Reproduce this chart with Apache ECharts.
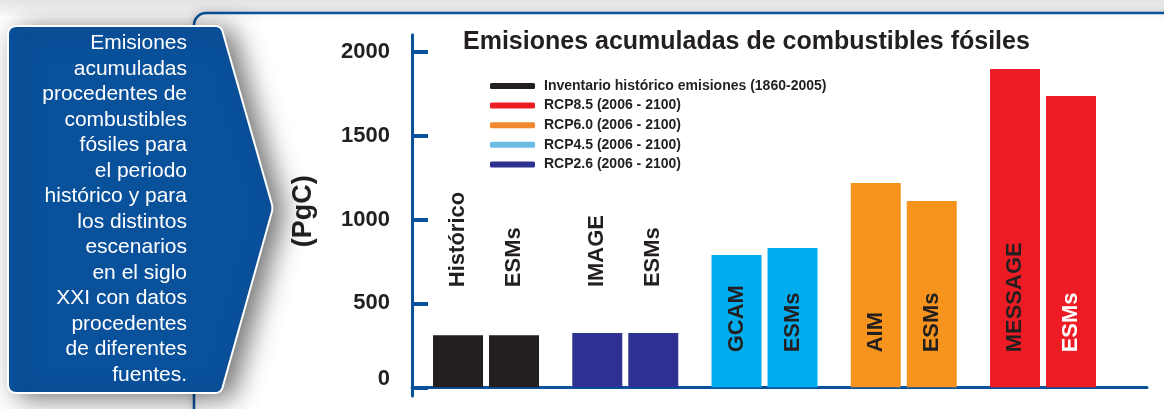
<!DOCTYPE html>
<html>
<head>
<meta charset="utf-8">
<script src="https://cdn.jsdelivr.net/npm/echarts@6/dist/echarts.min.js"></script>
<style>
html,body{margin:0;padding:0;background:#fff;}
#chart{width:1164px;height:409px;}
</style>
</head>
<body>
<div id="chart"></div>
<script>
const categories = ['Histórico', 'IMAGE', 'GCAM', 'AIM', 'MESSAGE'];
const secondLabel = 'ESMs';
const modelValues = [311, 323, 788, 1218, 1897];
const esmValues = [311, 323, 830, 1110, 1736];
const barColors = ['#231f20', '#2e3192', '#00aeef', '#f7941d', '#ed1c24'];
const legendNames = ['Inventario histórico emisiones (1860-2005)', 'RCP8.5 (2006 - 2100)', 'RCP6.0 (2006 - 2100)', 'RCP4.5 (2006 - 2100)', 'RCP2.6 (2006 - 2100)'];
const legendColors = ['#231f20', '#ed1c24', '#f0892d', '#6cbde6', '#2e3192'];
const yTicks = [0, 500, 1000, 1500, 2000];
const titleText = 'Emisiones acumuladas de combustibles fósiles';
const yName = '(PgC)';
const sideText = ['Emisiones', 'acumuladas', 'procedentes de', 'combustibles', 'fósiles para', 'el periodo', 'histórico y para', 'los distintos', 'escenarios', 'en el siglo', 'XXI con datos', 'procedentes', 'de diferentes', 'fuentes.'];

const FONT = "'Liberation Sans', Arial, Helvetica, sans-serif";
const BLUE = '#0a519c';
const DARK = '#231f20';

// rounded polygon outline helper (decoration only)
function roundedPoly(pts, radii) {
  const out = [];
  const n = pts.length;
  for (let i = 0; i < n; i++) {
    const P = pts[i], A = pts[(i - 1 + n) % n], B = pts[(i + 1) % n];
    const r = radii[i];
    const da = Math.hypot(A[0] - P[0], A[1] - P[1]);
    const db = Math.hypot(B[0] - P[0], B[1] - P[1]);
    const P1 = [P[0] + (A[0] - P[0]) * r / da, P[1] + (A[1] - P[1]) * r / da];
    const P2 = [P[0] + (B[0] - P[0]) * r / db, P[1] + (B[1] - P[1]) * r / db];
    const steps = 8;
    for (let s = 0; s <= steps; s++) {
      const t = s / steps;
      const x = (1 - t) * (1 - t) * P1[0] + 2 * (1 - t) * t * P[0] + t * t * P2[0];
      const y = (1 - t) * (1 - t) * P1[1] + 2 * (1 - t) * t * P[1] + t * t * P2[1];
      out.push([x, y]);
    }
  }
  return out;
}

const chart = echarts.init(document.getElementById('chart'), null, {renderer: 'canvas'});

function labelFor(text, i, isSecond) {
  const low = i < 2;
  return {
    show: true,
    formatter: text,
    rotate: 90,
    position: low ? 'top' : 'insideBottom',
    distance: low ? (i === 0 ? 48 : 46) : 35,
    align: 'left',
    verticalAlign: 'middle',
    fontFamily: FONT,
    fontWeight: 'bold',
    fontSize: 22,
    color: (isSecond && i === 4) ? '#ffffff' : DARK
  };
}

const modelData = modelValues.map((v, i) => ({
  value: v,
  itemStyle: {color: barColors[i]},
  label: labelFor(categories[i], i, false)
}));
const esmData = esmValues.map((v, i) => ({
  value: v,
  itemStyle: {color: barColors[i]},
  label: labelFor(secondLabel, i, true)
}));

const legendSeries = legendNames.map((n, i) => ({
  name: n,
  type: 'line',
  data: [],
  xAxisIndex: 0,
  yAxisIndex: 0,
  color: legendColors[i],
  itemStyle: {color: legendColors[i]},
  lineStyle: {color: legendColors[i]}
}));

const option = {
  animation: false,
  backgroundColor: '#ffffff',
  textStyle: {fontFamily: FONT},
  title: {
    text: titleText,
    left: 463,
    top: 30,
    padding: 0,
    textStyle: {fontFamily: FONT, fontWeight: 'bold', fontSize: 25, color: DARK}
  },
  legend: {
    data: legendNames,
    orient: 'vertical',
    left: 490,
    top: 78,
    padding: 0,
    icon: 'roundRect',
    itemWidth: 45,
    itemHeight: 6,
    itemGap: 3.6,
    selectedMode: false,
    textStyle: {fontFamily: FONT, fontWeight: 'bold', fontSize: 14, color: DARK, lineHeight: 16, padding: [0, 0, 0, 4]}
  },
  grid: [
    {left: 416.4, right: 51.35, top: 35, bottom: 21.7},
    {left: 412, right: 17, top: 35, bottom: 21.7},
    {left: 412, right: 17, top: 35, bottom: 13}
  ],
  xAxis: [
    {gridIndex: 0, type: 'category', data: categories, show: false},
    {gridIndex: 1, type: 'value', min: 0, max: 1, axisLine: {show: true, lineStyle: {color: BLUE, width: 3}}, axisTick: {show: false}, axisLabel: {show: false}, splitLine: {show: false}},
    {gridIndex: 2, type: 'value', min: 0, max: 1, show: false}
  ],
  yAxis: [
    {gridIndex: 0, type: 'value', min: 0, max: 2100, show: false},
    {
      gridIndex: 1, type: 'value', min: 0, max: 2100,
      name: yName, nameLocation: 'middle', nameGap: 95, nameRotate: 90,
      nameTextStyle: {fontFamily: FONT, fontWeight: 'bold', fontSize: 27, color: DARK},
      axisLine: {show: true, lineStyle: {color: BLUE, width: 3}},
      axisTick: {show: true, inside: true, length: 16, customValues: yTicks, lineStyle: {color: BLUE, width: 4}},
      axisLabel: {
        show: true, customValues: yTicks, margin: 22, fontFamily: FONT, fontWeight: 'bold', fontSize: 22, color: DARK,
        formatter: v => (v === 0 ? '{z|0}' : String(v)),
        rich: {z: {fontFamily: FONT, fontWeight: 'bold', fontSize: 22, color: DARK, padding: [0, 0, 16, 0]}}
      },
      splitLine: {show: false}
    },
    {
      gridIndex: 2, type: 'value', min: 0, max: 1,
      axisLine: {show: true, lineStyle: {color: BLUE, width: 3}},
      axisTick: {show: false}, axisLabel: {show: false}, splitLine: {show: false}
    }
  ],
  series: [
    {
      name: 'modelo', type: 'bar', xAxisIndex: 0, yAxisIndex: 0,
      barWidth: 50, barGap: '12%', data: modelData, z: 3
    },
    {
      name: 'ESMs', type: 'bar', xAxisIndex: 0, yAxisIndex: 0,
      barWidth: 50, barGap: '12%', data: esmData, z: 3
    }
  ].concat(legendSeries),
  graphic: [
    {
      type: 'rect', z: -20, silent: true,
      shape: {x: 0, y: 0, width: 1164, height: 16},
      style: {fill: new echarts.graphic.LinearGradient(0, 0, 0, 1, [{offset: 0, color: '#e4e4e4'}, {offset: 1, color: '#fbfbfb'}])}
    },
    {
      type: 'rect', z: -10, silent: true,
      shape: {x: 194, y: 13, width: 1010, height: 430, r: 12},
      style: {fill: '#ffffff', stroke: BLUE, lineWidth: 2.5, shadowBlur: 10, shadowColor: 'rgba(0,0,0,0.15)', shadowOffsetY: -1}
    },
    {
      type: 'polygon', z: 100, silent: true,
      shape: {points: roundedPoly([[8, 26], [221, 26], [273, 208], [221, 393], [8, 393]], [9, 6, 5, 6, 9])},
      style: {fill: BLUE, stroke: '#ffffff', lineWidth: 2, shadowBlur: 26, shadowOffsetX: 10, shadowOffsetY: 4, shadowColor: 'rgba(0,0,0,0.55)'}
    },
    {
      type: 'text', z: 101, silent: true,
      x: 187, y: 30.5,
      style: {
        text: sideText.join('\n'),
        fill: '#ffffff',
        font: '21px ' + FONT,
        align: 'right',
        verticalAlign: 'top',
        lineHeight: 25.5
      }
    }
  ]
};
chart.setOption(option);
</script>
</body>
</html>
